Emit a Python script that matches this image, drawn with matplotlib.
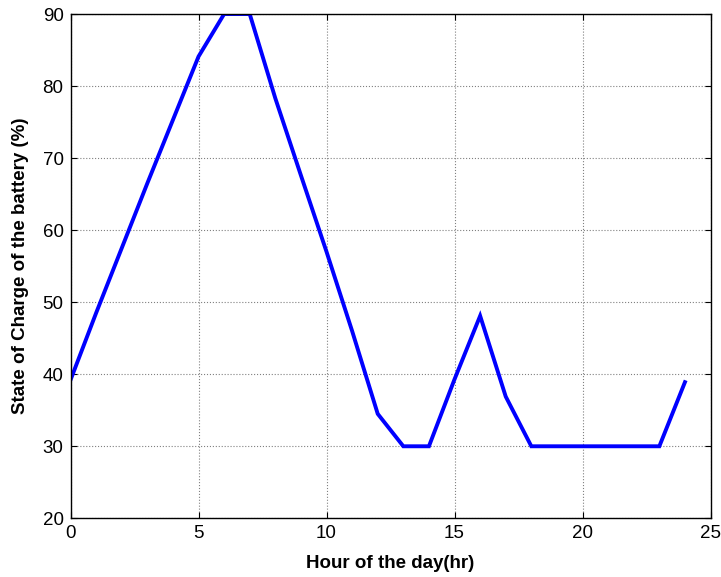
import numpy as np
import matplotlib
matplotlib.use('Agg')  # no display in the sandbox
import matplotlib.pyplot as plt

# hourly state of charge
hours = list(range(25))
soc = [39.2, 48.5, 57.5, 66.5, 75.3, 84.1, 90, 90, 78.3, 67.6, 57.0, 46.0,
       34.5, 30, 30, 39.3, 48.1, 36.9, 30, 30, 30, 30, 30, 30, 38.9]

x_ticks = [0, 5, 10, 15, 20, 25]
y_ticks = [20, 30, 40, 50, 60, 70, 80, 90]

plt.rcParams['font.family'] = ['Liberation Sans', 'DejaVu Sans']

fig = plt.figure(figsize=(7.21, 5.77), dpi=100)
ax = fig.add_axes([0.0978, 0.1017, 0.8877, 0.874])

ax.plot(hours, soc, color='#0000ff', linewidth=2.8, solid_joinstyle='miter')

ax.set_xlim(0, 25)
ax.set_ylim(20, 90)
ax.set_xticks(x_ticks)
ax.set_yticks(y_ticks)
ax.grid(True, color='#808080', linestyle=':', linewidth=0.8)
ax.tick_params(direction='in', length=4, width=0.8, labelsize=13.5,
               top=True, right=True, pad=5)
for s in ax.spines.values():
    s.set_linewidth(1.0)

ax.set_xlabel('Hour of the day(hr)', fontsize=13.5, fontweight='bold', labelpad=9)
ax.set_ylabel('State of Charge of the battery (%)', fontsize=13.5,
              fontweight='bold', labelpad=10)

fig.savefig('out.png', dpi=100)
